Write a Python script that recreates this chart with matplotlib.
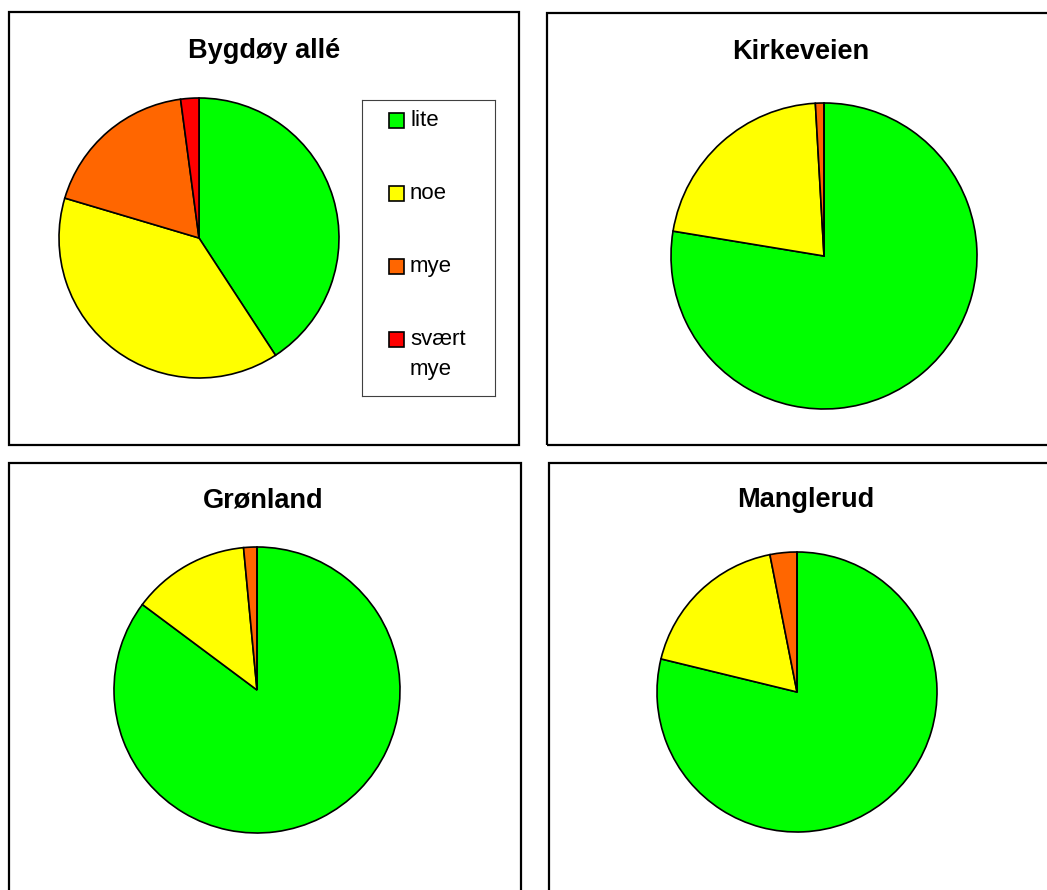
#!/usr/bin/env python3
# -*- coding: utf-8 -*-

"""
Four pies, one per street, share of answers lite/noe/mye/svært mye
"""
import matplotlib
matplotlib.use('Agg')
import matplotlib.pyplot as plt
from matplotlib.patches import Rectangle

W, H = 1047, 890

categories = ['lite', 'noe', 'mye', 'svært\nmye']
colors = ['#00FF00', '#FFFF00', '#FF6600', '#FF0000']

streets = ['Bygdøy allé', 'Kirkeveien', 'Grønland', 'Manglerud']
bygdoy = [40.8, 38.8, 18.3, 2.1]
kirkeveien = [77.6, 21.5, 0.9, 0.0]
gronland = [85.2, 13.3, 1.5, 0.0]
manglerud = [78.8, 18.1, 3.1, 0.0]

plt.rcParams['font.family'] = ['Liberation Sans', 'DejaVu Sans']


def px(x0, y0, x1, y1):
    # pixel box (top-left origin) -> figure fraction rect
    return [x0 / W, 1 - y1 / H, (x1 - x0) / W, (y1 - y0) / H]


def draw_pie(fig, values, cx, cy, r):
    pad = 1.03
    ax = fig.add_axes(px(cx - r * pad, cy - r * pad, cx + r * pad, cy + r * pad))
    wedges, _ = ax.pie(values, colors=colors, startangle=90, counterclock=False,
                       wedgeprops=dict(edgecolor='black', linewidth=1.2))
    ax.set_xlim(-pad, pad)
    ax.set_ylim(-pad, pad)
    ax.set_aspect('equal')
    ax.axis('off')
    return wedges


fig = plt.figure(figsize=(W / 100, H / 100), dpi=100)
fig.patch.set_facecolor('white')

# panel frames
boxes = [(9, 12, 519, 445), (547, 13, 1101, 445),
         (9, 463, 521, 900), (549, 463, 1101, 900)]
for (x0, y0, x1, y1) in boxes:
    fig.add_artist(Rectangle((x0 / W, 1 - y1 / H), (x1 - x0) / W, (y1 - y0) / H,
                             transform=fig.transFigure, fill=False,
                             edgecolor='black', linewidth=1.6))

# titles
title_pos = [(264, 51), (801, 52), (263, 500), (806, 500)]
for name, (tx, ty) in zip(streets, title_pos):
    fig.text(tx / W, 1 - ty / H, name, ha='center', va='center',
             fontsize=19.5, fontweight='bold')

# pies
draw_pie(fig, bygdoy, 199, 238, 140)
draw_pie(fig, kirkeveien, 824, 256, 153)
draw_pie(fig, gronland, 257, 690, 143)
draw_pie(fig, manglerud, 797, 692, 140)

# legend drawn by hand so the square sits on the first text line
lx0, ly0, lx1, ly1 = 362, 100, 495, 396
lax = fig.add_axes(px(lx0, ly0, lx1, ly1))
lax.set_xlim(0, lx1 - lx0)
lax.set_ylim(ly1 - ly0, 0)
lax.set_xticks([])
lax.set_yticks([])
for s in lax.spines.values():
    s.set_linewidth(0.8)
    s.set_edgecolor('#404040')
for i, (lab, col) in enumerate(zip(categories, colors)):
    yc = 20 + i * 73
    lax.add_patch(Rectangle((27, yc - 7.5), 15, 15, facecolor=col,
                            edgecolor='black', linewidth=1.2))
    lax.text(48, yc - 10, lab, ha='left', va='top', fontsize=16,
             linespacing=1.55)

fig.savefig('out.png', dpi=100)
